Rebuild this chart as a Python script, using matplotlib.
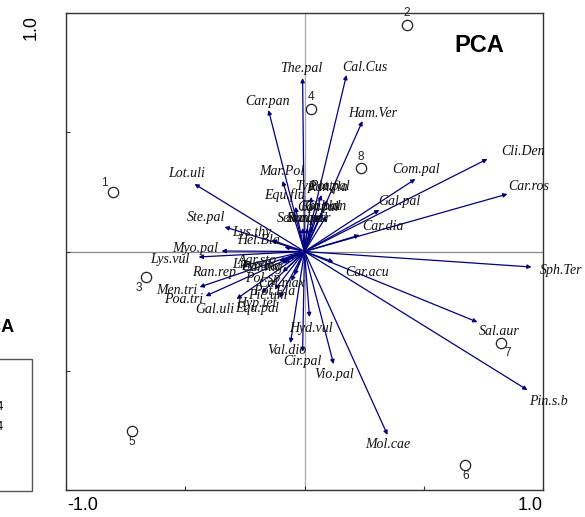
import matplotlib
matplotlib.use("Agg")
import matplotlib.pyplot as plt
from matplotlib.patches import Rectangle

# ---------------- data ----------------
species = ["The.pal", "Cal.Cus", "Car.pan", "Ham.Ver", "Mar.Pol", "Cli.Den", "Com.pal",
           "Car.ros", "Gal.pal", "Car.dia", "Sph.Ter", "Sal.aur", "Pin.s.b", "Mol.cae",
           "Vio.pal", "Cir.pal", "Val.dio", "Hyd.vul", "Car.acu", "Lot.uli", "Ste.pal",
           "Lys.thy", "Hel.Bla", "Myo.pal", "Lys.vul", "Ran.rep", "Lin.cat", "Lyc.eur",
           "Agr.sto", "Car.nig", "Men.tri", "Poa.tri", "Gal.uli", "Pol.sp", "Cal.max",
           "Pot.Ela", "Pic.um", "Hyp.tet", "Equ.pal", "Equ.flu", "Typ.lat", "Ran.fla",
           "Pot.pal", "Cal.pal", "Epi.pal", "Gal.lan", "Sen.aqu", "Ran.acr", "Sen.pal"]
species_x = [-0.008, 0.176, -0.151, 0.243, -0.092, 0.767, 0.465,
             0.851, 0.314, 0.231, 0.952, 0.725, 0.935, 0.348,
             0.122, -0.008, -0.059, 0.021, 0.122, -0.461, -0.335,
             -0.138, -0.084, -0.348, -0.444, -0.264, -0.105, -0.085,
             -0.070, -0.095, -0.440, -0.415, -0.285, -0.092, -0.042,
             -0.055, -0.180, -0.125, -0.105, -0.038, 0.029, 0.071,
             0.096, 0.054, 0.075, 0.092, 0.013, 0.034, -0.008]
species_y = [0.727, 0.740, 0.593, 0.547, 0.296, 0.388, 0.304,
             0.241, 0.174, 0.069, -0.065, -0.296, -0.581, -0.769,
             -0.472, -0.421, -0.384, -0.275, -0.044, 0.283, 0.103,
             0.048, 0.019, 0.002, -0.023, -0.061, -0.040, -0.045,
             -0.030, -0.050, -0.149, -0.187, -0.199, -0.086, -0.099,
             -0.124, -0.174, -0.160, -0.195, 0.187, 0.229, 0.237,
             0.216, 0.153, 0.162, 0.149, 0.099, 0.107, 0.099]

samples = ["1", "2", "3", "4", "5", "6", "7", "8"]
sample_x = [-0.805, 0.428, -0.663, 0.029, -0.725, 0.675, 0.822, 0.235]
sample_y = [0.249, 0.949, -0.107, 0.597, -0.753, -0.895, -0.384, 0.350]

# ---------------- layout (label offsets in pixels: dx right, dy down) ----------------
label_off = {
    "The.pal": (-1, -10), "Cal.Cus": (18, -8), "Car.pan": (-1, -9), "Ham.Ver": (10, -8),
    "Mar.Pol": (-1, -9), "Cli.Den": (36, -7), "Com.pal": (1, -9), "Car.ros": (21, -8),
    "Gal.pal": (20, -9), "Car.dia": (23, -9), "Sph.Ter": (30, 3), "Sal.aur": (22, 9),
    "Pin.s.b": (21, 11), "Mol.cae": (0, 10), "Vio.pal": (1, 10), "Cir.pal": (0, 10),
    "Val.dio": (-4, 7), "Hyd.vul": (1, 11), "Car.acu": (34, 11), "Lot.uli": (-8, -11),
    "Ste.pal": (-19, -9), "Lys.thy": (-20, -8), "Hel.Bla": (-26, -6), "Myo.pal": (-26, -3),
    "Lys.vul": (-29, 3), "Ran.rep": (-27, 6), "Lin.cat": (-28, 3), "Lyc.eur": (-22, 4),
    "Agr.sto": (-30, 2), "Car.nig": (-20, 4), "Men.tri": (-23, 3), "Poa.tri": (-22, 3),
    "Gal.uli": (-22, 11), "Pol.sp": (-20, 6), "Cal.max": (-13, 8), "Pot.Ela": (-17, 10),
    "Pic.um": (6, 3), "Hyp.tet": (-18, 14), "Equ.pal": (-22, 10), "Equ.flu": (-11, -12),
    "Typ.lat": (3, -10), "Ran.fla": (6, -8), "Pot.pal": (2, -13), "Cal.pal": (1, -8),
    "Epi.pal": (-2, -6), "Gal.lan": (-1, -9), "Sen.aqu": (-8, -9), "Ran.acr": (-4, -7),
    "Sen.pal": (5, -9),
}
num_off = {"1": (-8, -9), "2": (0, -12), "3": (-8, 11), "4": (0, -12),
           "5": (0, 11), "6": (0, 11), "7": (7, 10), "8": (0, -11)}

W, H = 585, 517
fig = plt.figure(figsize=(W / 100, H / 100), dpi=100)
L, R, T, B = 66, 543, 13, 490
ax = fig.add_axes([L / W, 1 - B / H, (R - L) / W, (B - T) / H])
ax.set_xlim(-1, 1)
ax.set_ylim(-1, 1)

for s in ax.spines.values():
    s.set_color("#333333")
    s.set_linewidth(1.0)
ax.set_xticks([-1, -0.5, 0, 0.5, 1])
ax.set_yticks([-1, -0.5, 0, 0.5, 1])
ax.tick_params(direction="in", length=3, width=0.8, color="#333333",
               labelbottom=False, labelleft=False)

ax.axhline(0, color="#8a8a8a", lw=0.9, zorder=1)
ax.axvline(0, color="#a8a8a8", lw=0.9, zorder=1)

navy = "#000080"
for name, x, y in zip(species, species_x, species_y):
    ax.annotate("", xy=(x, y), xytext=(0, 0),
                arrowprops=dict(arrowstyle="-|>", color=navy, lw=0.9,
                                mutation_scale=6, shrinkA=0, shrinkB=0),
                zorder=3)
    dx, dy = label_off[name]
    ax.annotate(name, xy=(x, y), xytext=(dx * 0.72, -dy * 0.72),
                textcoords="offset points", ha="center", va="center",
                fontsize=10, fontstyle="italic", family="Liberation Serif",
                color="#111111", zorder=4)

ax.scatter(sample_x, sample_y, s=55, facecolors="white", edgecolors="#222222",
           linewidths=0.9, zorder=5)
for name, x, y in zip(samples, sample_x, sample_y):
    dx, dy = num_off[name]
    ax.annotate(name, xy=(x, y), xytext=(dx * 0.72, -dy * 0.72),
                textcoords="offset points", ha="center", va="center",
                fontsize=8.5, family="Liberation Sans", color="#222222", zorder=5)

fig.text(479 / W, 1 - 45 / H, "PCA", ha="center", va="center",
         fontsize=17, fontweight="bold", family="Liberation Sans")

# axis end labels
fig.text(67 / W, 1 - 506 / H, "-1.0", ha="left", va="center", fontsize=13,
         family="Liberation Sans")
fig.text(543 / W, 1 - 506 / H, "1.0", ha="right", va="center", fontsize=13,
         family="Liberation Sans")
fig.text(31 / W, 1 - 15 / H, "1.0", ha="center", va="top", rotation=90,
         fontsize=13, family="Liberation Sans")

# remnants of neighbouring panel (cut off at the left edge, as in the source)
fig.text(15 / W, 1 - 327 / H, "PCA", ha="right", va="center", fontsize=13,
         fontweight="bold", family="Liberation Sans")
fig.patches.append(Rectangle((-20 / W, 1 - 491 / H), 52 / W, 132 / H,
                             transform=fig.transFigure, fill=False,
                             edgecolor="#555555", lw=1.0))
fig.text(4 / W, 1 - 407 / H, "0.44", ha="right", va="center", fontsize=9,
         family="Liberation Sans")
fig.text(4 / W, 1 - 427 / H, "0.34", ha="right", va="center", fontsize=9,
         family="Liberation Sans")

fig.savefig("out.png", dpi=100)
